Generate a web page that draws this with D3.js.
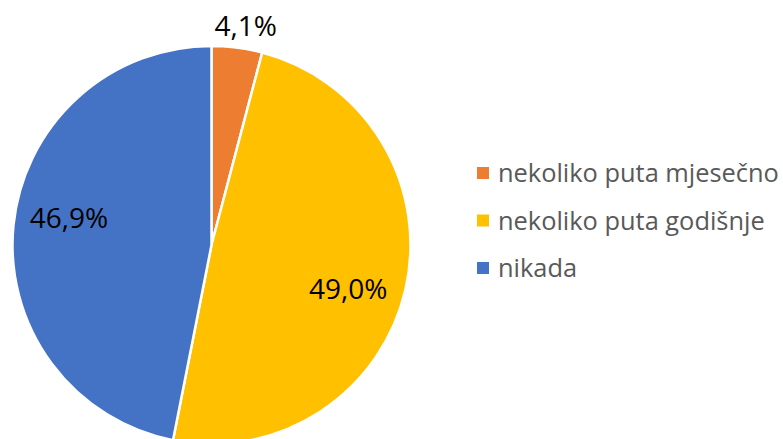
<!DOCTYPE html>
<html>
<head>
<meta charset="utf-8">
<script src="https://cdn.jsdelivr.net/npm/d3@7"></script>
<style>
  html, body { margin: 0; padding: 0; background: #fff; }
  svg { display: block; }
</style>
</head>
<body>
<svg id="chart" width="783" height="439"></svg>
<script>
const categories = ["nekoliko puta mjesečno", "nekoliko puta godišnje", "nikada"];
const values = [4.1, 49.0, 46.9];
const labels = ["4,1%", "49,0%", "46,9%"];
const colors = ["#ED7D31", "#FFC000", "#4472C4"];

const svg = d3.select("#chart");
const cx = 211.5, cy = 245, r = 199;

const pie = d3.pie().sort(null).value(d => d)(values);
const arc = d3.arc().innerRadius(0).outerRadius(r);

const g = svg.append("g").attr("transform", `translate(${cx},${cy})`);
g.selectAll("path").data(pie).join("path")
  .attr("d", arc)
  .attr("fill", (d, i) => colors[i])
  .attr("stroke", "#fff")
  .attr("stroke-width", 2.5)
  .attr("stroke-linejoin", "miter");

// data labels: best-fit placement (outside for the small slice)
const labelArcIn = d3.arc().innerRadius(r * 0.72).outerRadius(r * 0.72);
const labelArcOut = d3.arc().innerRadius(r * 1.1).outerRadius(r * 1.1);
const nudges = [[6, -3], [-3, 11], [0, -14]];
const labelPos = pie.map((d, i) => {
  const c = (i === 0 ? labelArcOut : labelArcIn).centroid(d);
  return [c[0] + nudges[i][0], c[1] + nudges[i][1]];
});

g.selectAll("text.lbl").data(pie).join("text")
  .attr("class", "lbl")
  .attr("x", (d, i) => labelPos[i][0])
  .attr("y", (d, i) => labelPos[i][1])
  .attr("text-anchor", "middle")
  .attr("dominant-baseline", "central")
  .attr("font-family", "'Open Sans', sans-serif")
  .attr("font-size", 28)
  .attr("fill", "#000")
  .text((d, i) => labels[i]);

// legend
const legend = svg.append("g").attr("transform", "translate(477,167)");
const item = legend.selectAll("g").data(categories).join("g")
  .attr("transform", (d, i) => `translate(0,${i * 47.5})`);
item.append("rect")
  .attr("width", 12).attr("height", 12)
  .attr("fill", (d, i) => colors[i]);
item.append("text")
  .attr("x", 21).attr("y", 15)
  .attr("font-family", "'Open Sans', sans-serif")
  .attr("font-size", 25.4)
  .attr("fill", "#595959")
  .text(d => d);
</script>
</body>
</html>
